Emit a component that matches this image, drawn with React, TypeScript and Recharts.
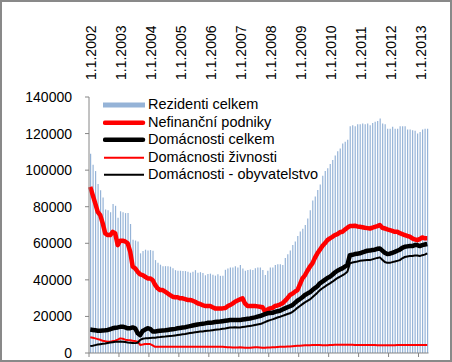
import React from "react";
import { ComposedChart, Bar, Line, XAxis, YAxis, Legend } from "recharts";

// monthly series, 1.1.2002 – 1.4.2013
const YEARS = [2002, 2003, 2004, 2005, 2006, 2007, 2008, 2009, 2010, 2011, 2012, 2013];
const MONTHS_IN_LAST_YEAR = 4;

const TOP_TICKS = [
  "1.1.2002", "1.1.2003", "1.1.2004", "1.1.2005", "1.1.2006", "1.1.2007",
  "1.1.2008", "1.1.2009", "1.1.2010", "1.1.2011", "1.1.2012", "1.1.2013",
];

const Y_TICKS = [0, 20000, 40000, 60000, 80000, 100000, 120000, 140000];

const REZIDENTI = [
  109000, 103000, 99500, 94500, 89000, 85000, 78500, 78000, 77000, 81500, 80500, 74000,
  77500, 77000, 76500, 76500, 70500, 62000, 61500, 61000, 54500, 55800, 56500, 56000,
  56300, 55900, 50800, 49300, 48300, 47500, 47500, 47500, 47200, 46300, 45300, 45000,
  45000, 44800, 44800, 44400, 43900, 44400, 45300, 43900, 44200, 43800, 42500, 43200,
  43400, 42800, 42300, 43000, 42200, 42200, 45500, 46200, 46800, 46800, 47500, 46800,
  48100, 46200, 45000, 45400, 45700, 45400, 46400, 46800, 46800, 45400, 42600, 45000,
  46800, 46800, 48100, 48600, 48600, 48100, 52000, 54000, 56000, 59000, 61000, 64000,
  66500, 68000, 70000, 73500, 78100, 83400, 85600, 89100, 92200, 97000, 99500, 101000,
  103300, 105500, 108000, 110300, 111800, 114600, 115500, 116600, 124000, 124600, 124000, 125100,
  125100, 125500, 125100, 125500, 124600, 125800, 126400, 126900, 128200, 125500, 125100, 122700,
  122700, 123700, 122700, 122700, 124000, 124000, 124000, 122200, 122200, 121800, 121500, 120000,
  120900, 122200, 122700, 122700,
];

const NEFINANCNI = [
  90900, 86300, 81800, 77200, 75400, 70900, 65400, 64500, 64500, 66300, 65400, 59000,
  61400, 61400, 61000, 60000, 55400, 47200, 46300, 44400, 43000, 42600, 41700, 40800,
  40800, 39900, 37200, 35400, 34400, 34400, 33500, 32600, 31700, 30800, 30500, 30500,
  29900, 29900, 29500, 29000, 29000, 28600, 28000, 27200, 26800, 26200, 25700, 25700,
  25700, 25000, 24400, 24400, 24400, 24400, 24600, 25500, 26200, 27000, 28000, 28700,
  29300, 29900, 27100, 25700, 25700, 25700, 25700, 25500, 25300, 25000, 22800, 23800,
  24400, 24700, 25700, 26000, 26500, 27200, 28500, 30000, 31700, 32500, 33500, 34400,
  37500, 40800, 42500, 45000, 47200, 49000, 52000, 54500, 56500, 58500, 60000, 61700,
  62700, 63500, 64500, 65000, 66000, 66300, 67500, 68500, 69400, 69400, 69600, 69200,
  69000, 68800, 68500, 68300, 68100, 68500, 69000, 69400, 70000, 68500, 68100, 67600,
  67200, 66800, 66300, 66300, 65500, 65000, 64500, 64000, 63600, 62700, 62100, 61700,
  62300, 63200, 62700, 62700,
];

const DOM_CELKEM = [
  12800, 12600, 12400, 12200, 12200, 12300, 12400, 12600, 13000, 13500, 13800, 14000,
  14300, 14400, 14000, 13500, 13600, 14000, 13500, 10800, 9800, 12000, 12800, 13500,
  13200, 11800, 11700, 12000, 12200, 12300, 12400, 12600, 12800, 13000, 13200, 13500,
  13700, 13900, 14100, 14400, 14700, 15000, 15300, 15600, 15800, 16000, 16200, 16500,
  16600, 16700, 16900, 17100, 17200, 17400, 17600, 17800, 18000, 18000, 18100, 18000,
  18000, 18300, 18500, 18700, 18900, 19200, 19500, 19900, 20200, 20700, 21200, 21700,
  21900, 22000, 22500, 22800, 23100, 23800, 24400, 25000, 25600, 26200, 27400, 28600,
  29500, 30500, 31700, 32500, 33200, 34400, 35500, 36500, 38100, 39000, 40000, 41000,
  41700, 42800, 44000, 45000, 45700, 46300, 47200, 48100, 53500, 53700, 54100, 54300,
  54500, 55000, 55500, 55900, 56000, 56300, 56500, 57000, 57200, 56000, 54800, 54100,
  54300, 54800, 55300, 55900, 56500, 57500, 58100, 58300, 58500, 58500, 59000, 59000,
  58500, 59000, 59300, 59600,
];

const DOM_ZIVNOSTI = [
  8600, 8300, 8000, 7600, 7200, 6700, 6400, 6200, 6200, 6500, 6700, 7300,
  8000, 7800, 7300, 7100, 7000, 6700, 6500, 6200, 4400, 4600, 4900, 4900,
  4900, 4200, 3400, 3400, 3400, 3400, 3400, 3400, 3400, 3400, 3400, 3400,
  3400, 3400, 3400, 3400, 3400, 3400, 3400, 3400, 3400, 3400, 3400, 3400,
  3400, 3400, 3400, 3400, 3400, 3400, 3300, 3200, 3100, 3000, 3000, 3000,
  3100, 3000, 2900, 2900, 2900, 3000, 3100, 3100, 3000, 2900, 2900, 3000,
  3000, 3100, 3200, 3300, 3400, 3400, 3400, 3500, 3600, 3700, 3800, 3900,
  4000, 4100, 4200, 4300, 4300, 4400, 4400, 4400, 4400, 4300, 4300, 4300,
  4400, 4400, 4500, 4500, 4500, 4500, 4500, 4500, 4500, 4500, 4400, 4400,
  4400, 4400, 4400, 4400, 4400, 4400, 4400, 4300, 4300, 4300, 4300, 4300,
  4300, 4300, 4300, 4400, 4400, 4400, 4400, 4400, 4400, 4400, 4400, 4400,
  4400, 4400, 4400, 4400,
];

const DOM_OBYVATELSTVO = [
  3800, 4000, 4300, 4600, 4800, 5000, 5200, 5500, 5700, 5900, 6100, 6200,
  6300, 6200, 6000, 5700, 5600, 5500, 5400, 5600, 7200, 7800, 8000, 8100,
  8200, 8300, 8400, 8600, 8700, 8900, 9000, 9200, 9300, 9400, 9600, 9800,
  10000, 10200, 10400, 10700, 10900, 11100, 11300, 11500, 11700, 11800, 12000, 12200,
  12300, 12500, 12700, 12900, 13000, 13200, 13400, 13700, 14000, 14000, 14100, 14000,
  14000, 14200, 14400, 14600, 14800, 15000, 15300, 15600, 15800, 16300, 16900, 17500,
  18000, 18400, 18900, 19400, 19800, 20300, 20800, 21300, 21700, 22500, 23500, 24700,
  25700, 26700, 27700, 28500, 29300, 30500, 31700, 33000, 34400, 35400, 36300, 37300,
  38100, 39000, 40000, 41000, 41700, 42500, 43300, 44400, 49000, 49500, 49800, 50000,
  50400, 50600, 50700, 50800, 50800, 51200, 51600, 52000, 52300, 51000, 49800, 49300,
  49300, 49700, 50000, 50400, 50800, 51800, 52500, 52800, 53000, 53000, 53300, 53300,
  53000, 53500, 53800, 54500,
];

const DATES = YEARS.flatMap((y, yi) => {
  const n = yi === YEARS.length - 1 ? MONTHS_IN_LAST_YEAR : 12;
  return Array.from({ length: n }, (_, m) => `1.${m + 1}.${y}`);
});

const data = DATES.map((date, i) => ({
  date,
  rez: REZIDENTI[i],
  nef: NEFINANCNI[i],
  celkem: DOM_CELKEM[i],
  ziv: DOM_ZIVNOSTI[i],
  oby: DOM_OBYVATELSTVO[i],
}));

const FONT = "'Liberation Sans', Arial, sans-serif";
const AXIS_COLOR = "#868686";
const BAR_COLOR = "#95B3D7";
const RED = "#FF0000";
const BLACK = "#000000";

const SERIES = [
  { key: "rez", name: "Rezidenti celkem", color: BAR_COLOR, width: 5, bar: true },
  { key: "nef", name: "Nefinanční podniky", color: RED, width: 4.5, bar: false },
  { key: "celkem", name: "Domácnosti celkem", color: BLACK, width: 4.5, bar: false },
  { key: "ziv", name: "Domácnosti živnosti", color: RED, width: 2, bar: false },
  { key: "oby", name: "Domácnosti - obyvatelstvo", color: BLACK, width: 2, bar: false },
];

function TopTick(props: any) {
  const { x, y, payload } = props;
  return (
    <text
      transform={`translate(${x + 6},${y}) rotate(-90)`}
      textAnchor="start"
      fontSize={14}
      fontFamily={FONT}
      fill="#000"
    >
      {payload.value}
    </text>
  );
}

function BottomTick(props: any) {
  const { x, y, payload } = props;
  const bx = x - (payload.offset ?? 0);
  return <line x1={bx} x2={bx} y1={y} y2={y + 4} stroke={AXIS_COLOR} strokeWidth={1} />;
}

function ChartLegend() {
  return (
    <div style={{ background: "#fff", padding: "0 2px 0 6px", fontFamily: FONT, fontSize: 14.5 }}>
      {SERIES.map((s) => (
        <div key={s.key} style={{ display: "flex", alignItems: "center", height: 17.5 }}>
          <svg width={45} height={17.5} style={{ display: "block" }}>
            {s.bar ? (
              <rect x={0} y={6.5} width={42} height={5} fill={s.color} />
            ) : (
              <line
                x1={s.width > 3 ? 2 : 1}
                x2={s.width > 3 ? 40 : 41}
                y1={8.75}
                y2={8.75}
                stroke={s.color}
                strokeWidth={s.width}
                strokeLinecap={s.width > 3 ? "round" : "butt"}
              />
            )}
          </svg>
          <span style={{ color: "#000", whiteSpace: "nowrap", lineHeight: "17.5px" }}>{s.name}</span>
        </div>
      ))}
    </div>
  );
}

export default function App() {
  return (
    <div
      style={{
        position: "absolute",
        left: 0,
        top: 0,
        width: 448,
        height: 358,
        border: `2px solid #898989`,
        background: "#fff",
        fontFamily: FONT,
      }}
    >
      <ComposedChart
        width={448}
        height={358}
        data={data}
        margin={{ top: 0, right: 21.5, bottom: 0, left: 7 }}
      >
        <XAxis
          dataKey="date"
          ticks={TOP_TICKS}
          interval={0}
          height={7}
          axisLine={{ stroke: AXIS_COLOR }}
          tickLine={false}
          tickSize={0}
          tickMargin={0}
          tick={<BottomTick />}
        />
        <XAxis
          xAxisId="top"
          orientation="top"
          dataKey="date"
          ticks={TOP_TICKS}
          interval={0}
          height={95}
          axisLine={false}
          tickLine={false}
          tickSize={0}
          tickMargin={17}
          tick={<TopTick />}
        />
        <YAxis
          type="number"
          domain={[0, 140000]}
          ticks={Y_TICKS}
          interval={0}
          width={80}
          axisLine={{ stroke: AXIS_COLOR }}
          tickLine={{ stroke: AXIS_COLOR }}
          tickSize={4}
          tickMargin={13}
          tick={{ fontSize: 14, fill: "#000", fontFamily: FONT }}
        />
        <Bar dataKey="rez" name="Rezidenti celkem" fill={BAR_COLOR} barSize={1.2} isAnimationActive={false} />
        {SERIES.filter((s) => !s.bar).map((s) => (
          <Line
            key={s.key}
            type="linear"
            dataKey={s.key}
            name={s.name}
            stroke={s.color}
            strokeWidth={s.width}
            strokeLinejoin="round"
            dot={false}
            activeDot={false}
            isAnimationActive={false}
          />
        ))}
        <Legend
          layout="vertical"
          align="center"
          verticalAlign="middle"
          content={<ChartLegend />}
          wrapperStyle={{ left: 95, top: 94, width: "auto" }}
        />
      </ComposedChart>
    </div>
  );
}
